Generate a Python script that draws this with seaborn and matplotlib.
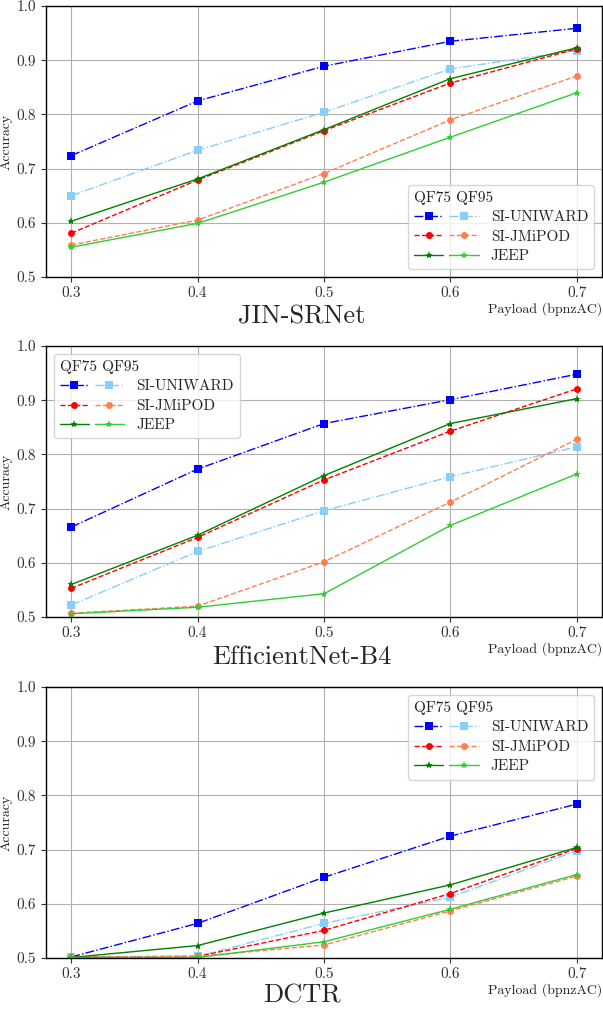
import matplotlib
matplotlib.use("Agg")
import matplotlib.pyplot as plt
from matplotlib.legend_handler import HandlerTuple
import seaborn as sns

payload = [0.3, 0.4, 0.5, 0.6, 0.7]

titles = ["JIN-SRNet", "EfficientNet-B4", "DCTR"]

# JIN-SRNet
jin_uniward_75 = [0.724, 0.825, 0.889, 0.935, 0.959]
jin_uniward_95 = [0.650, 0.734, 0.804, 0.884, 0.918]
jin_jmipod_75 = [0.581, 0.679, 0.770, 0.858, 0.921]
jin_jmipod_95 = [0.559, 0.605, 0.691, 0.790, 0.871]
jin_jeep_75 = [0.603, 0.681, 0.772, 0.866, 0.923]
jin_jeep_95 = [0.555, 0.599, 0.675, 0.758, 0.840]

# EfficientNet-B4
eff_uniward_75 = [0.666, 0.773, 0.857, 0.901, 0.948]
eff_uniward_95 = [0.522, 0.621, 0.696, 0.759, 0.814]
eff_jmipod_75 = [0.553, 0.647, 0.753, 0.843, 0.921]
eff_jmipod_95 = [0.507, 0.520, 0.602, 0.712, 0.828]
eff_jeep_75 = [0.560, 0.651, 0.761, 0.857, 0.903]
eff_jeep_95 = [0.506, 0.518, 0.543, 0.669, 0.764]

# DCTR
dctr_uniward_75 = [0.502, 0.564, 0.649, 0.725, 0.784]
dctr_uniward_95 = [0.502, 0.503, 0.564, 0.612, 0.698]
dctr_jmipod_75 = [0.502, 0.503, 0.551, 0.619, 0.702]
dctr_jmipod_95 = [0.502, 0.503, 0.524, 0.587, 0.651]
dctr_jeep_75 = [0.501, 0.523, 0.583, 0.635, 0.704]
dctr_jeep_95 = [0.501, 0.501, 0.530, 0.590, 0.654]

panels = [
    [(jin_uniward_75, jin_uniward_95), (jin_jmipod_75, jin_jmipod_95), (jin_jeep_75, jin_jeep_95)],
    [(eff_uniward_75, eff_uniward_95), (eff_jmipod_75, eff_jmipod_95), (eff_jeep_75, eff_jeep_95)],
    [(dctr_uniward_75, dctr_uniward_95), (dctr_jmipod_75, dctr_jmipod_95), (dctr_jeep_75, dctr_jeep_95)],
]

schemes = ["SI-UNIWARD", "SI-JMiPOD", "JEEP"]
colors = [("blue", "lightskyblue"), ("red", "coral"), ("green", "limegreen")]
styles = ["-.", "--", "-"]
markers = ["s", "o", "*"]
msizes = [6, 5, 6]
legend_locs = ["lower right", "upper left", "upper right"]

sns.set_style("whitegrid", rc={
    "axes.edgecolor": "black",
    "axes.linewidth": 1.0,
    "grid.color": "#b0b0b0",
    "grid.linewidth": 0.8,
    "xtick.bottom": True,
    "ytick.left": True,
    "xtick.color": "#333333",
    "ytick.color": "#333333",
})
plt.rcParams["font.family"] = ["cmr10", "DejaVu Serif"]
plt.rcParams["mathtext.fontset"] = "cm"
plt.rcParams["axes.unicode_minus"] = False

fig = plt.figure(figsize=(6.03, 10.11), dpi=100)
bottoms = [0.726, 0.3897, 0.0524]
title_y = [317, 657, 996]

for i, (series, bottom) in enumerate(zip(panels, bottoms)):
    ax = fig.add_axes([0.0763, bottom, 0.922, 0.268])
    handles = []
    for j, (v75, v95) in enumerate(series):
        pair = []
        for k, vals in enumerate((v75, v95)):
            sns.lineplot(x=payload, y=vals, ax=ax, color=colors[j][k], linestyle=styles[j],
                         marker=markers[j], markersize=msizes[j], linewidth=1.0,
                         markeredgewidth=0, markeredgecolor=colors[j][k])
            pair.append(ax.lines[-1])
        handles.append(tuple(pair))
    ax.set_ylim(0.5, 1.0)
    ax.set_xlim(0.28, 0.72)
    ax.set_xticks(payload)
    ax.set_yticks([0.5, 0.6, 0.7, 0.8, 0.9, 1.0])
    ax.tick_params(axis="both", labelsize=11, length=3.5, width=0.8, colors="#333333")
    ax.set_ylabel("Accuracy", fontsize=10, color="#222222", labelpad=3)
    ax.set_xlabel("Payload (bpnzAC)", fontsize=10, color="#222222", loc="right", labelpad=1)
    ax.grid(True)
    for s in ax.spines.values():
        s.set_color("black")
        s.set_linewidth(1.0)
    leg = ax.legend(handles, schemes, handler_map={tuple: HandlerTuple(ndivide=None, pad=0.4)},
                    loc=legend_locs[i], title="QF75 QF95", alignment="left",
                    fontsize=11, title_fontsize=11, handlelength=4.2, framealpha=0.8,
                    borderpad=0.4, labelspacing=0.38)
    fig.text(0.5, 1 - title_y[i] / 1011, titles[i], ha="center", va="center", fontsize=19)

fig.savefig("out.png", dpi=100)
